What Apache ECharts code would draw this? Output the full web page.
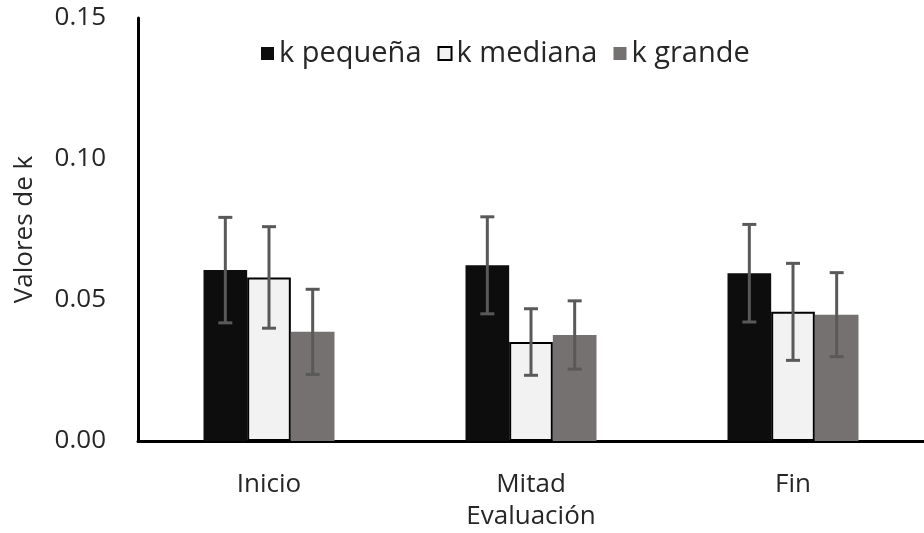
<!DOCTYPE html>
<html>
<head>
<meta charset="utf-8">
<script src="https://cdn.jsdelivr.net/npm/echarts@6/dist/echarts.min.js"></script>
<style>
html,body{margin:0;padding:0;background:#fff;}
#chart{width:924px;height:533px;}
</style>
</head>
<body>
<div id="chart"></div>
<script>
const categories = ['Inicio', 'Mitad', 'Fin'];
const seriesNames = ['k pequeña', 'k mediana', 'k grande'];
const kPequena = [0.0606, 0.0623, 0.0595];
const kPequenaErr = [0.0187, 0.0172, 0.0173];
const kMediana = [0.0580, 0.0351, 0.0458];
const kMedianaErr = [0.0180, 0.0118, 0.0172];
const kGrande = [0.0387, 0.0376, 0.0448];
const kGrandeErr = [0.0151, 0.0121, 0.0149];
const yTicks = [0, 0.05, 0.10, 0.15];

const FONT = 'Open Sans';
const values = [kPequena, kMediana, kGrande];
const errs = [kPequenaErr, kMedianaErr, kGrandeErr];
const colors = ['#0d0d0d', '#f2f2f2', '#767171'];
const GAP = 0.5;

const chart = echarts.init(document.getElementById('chart'), null, {renderer: 'canvas'});

const barSeries = values.map((vals, i) => ({
  name: seriesNames[i],
  type: 'bar',
  data: vals,
  barGap: 0,
  barCategoryGap: (GAP * 100) + '%',
  itemStyle: i === 1
    ? {color: colors[i], borderColor: '#000', borderWidth: 2}
    : {color: colors[i]},
  emphasis: {disabled: true},
  z: 2
}));

const errSeries = values.map((vals, i) => ({
  name: seriesNames[i] + ' err',
  type: 'custom',
  z: 5,
  data: vals.map((v, j) => [j, v - errs[i][j], v + errs[i][j]]),
  renderItem: function (params, api) {
    const c = api.value(0);
    const lo = api.coord([c, api.value(1)]);
    const hi = api.coord([c, api.value(2)]);
    const band = api.size([1, 0])[0];
    const bw = band * (1 - GAP) / 3;
    const x = lo[0] + (i - 1) * bw;
    const hw = 7;
    const style = {stroke: '#595959', lineWidth: 3};
    return {
      type: 'group',
      children: [
        {type: 'line', shape: {x1: x, y1: lo[1], x2: x, y2: hi[1]}, style: style},
        {type: 'line', shape: {x1: x - hw, y1: lo[1], x2: x + hw, y2: lo[1]}, style: style},
        {type: 'line', shape: {x1: x - hw, y1: hi[1], x2: x + hw, y2: hi[1]}, style: style}
      ]
    };
  },
  silent: true
}));

chart.setOption({
  animation: false,
  backgroundColor: '#fff',
  textStyle: {fontFamily: FONT},
  grid: {left: 138, right: 0, top: 18, bottom: 92, containLabel: false, outerBoundsMode: 'none'},
  legend: {
    data: seriesNames,
    top: 34,
    left: 256,
    itemWidth: 13,
    itemHeight: 13,
    itemGap: 16,
    icon: 'rect',
    textStyle: {fontFamily: FONT, fontSize: 29, color: '#262626'}
  },
  xAxis: {
    type: 'category',
    data: categories,
    name: 'Evaluación',
    nameLocation: 'middle',
    nameGap: 63,
    nameTextStyle: {fontFamily: FONT, fontSize: 26, color: '#262626'},
    axisLine: {lineStyle: {color: '#000', width: 3}},
    axisTick: {show: false},
    axisLabel: {fontFamily: FONT, fontSize: 26, color: '#262626', margin: 31}
  },
  yAxis: {
    type: 'value',
    min: 0,
    max: 0.15,
    interval: 0.05,
    name: 'Valores de k',
    nameLocation: 'middle',
    nameGap: 100,
    nameTextStyle: {fontFamily: FONT, fontSize: 26, color: '#262626'},
    axisLine: {show: true, lineStyle: {color: '#000', width: 3}},
    axisTick: {show: false},
    splitLine: {show: false},
    axisLabel: {
      fontFamily: FONT, fontSize: 26, color: '#262626', margin: 32,
      formatter: v => yTicks.some(t => Math.abs(t - v) < 1e-9) ? v.toFixed(2) : ''
    }
  },
  series: barSeries.concat(errSeries)
});
</script>
</body>
</html>
